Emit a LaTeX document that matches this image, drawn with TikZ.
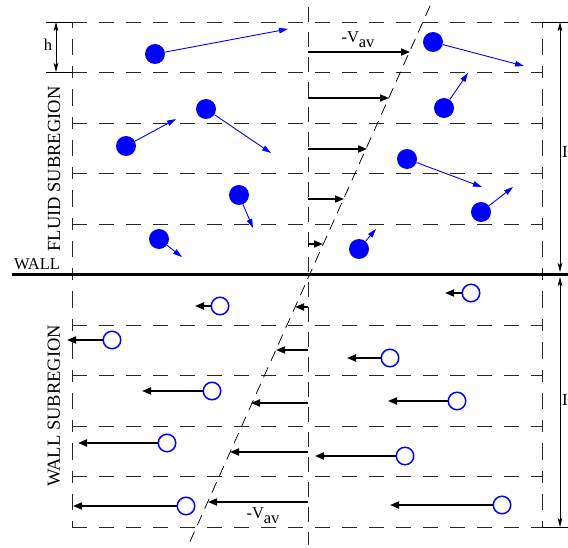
\documentclass[tikz,border=0pt]{standalone}
\usepackage{fontspec}
\setmainfont{Liberation Serif}
\usetikzlibrary{arrows.meta}
\definecolor{pblue}{RGB}{0,0,255}
\begin{document}
\begin{tikzpicture}[x=1pt,y=-1pt,
  hgrid/.style={line width=0.9pt, black!85, dash pattern=on 15pt off 12pt},
  vgrid/.style={line width=0.9pt, black!85, dash pattern=on 6pt off 11pt on 16.5pt off 11pt on 6pt off 300pt},
  cgrid/.style={line width=0.9pt, black!85, dash pattern=on 15pt off 10pt},
  slant/.style={line width=0.75pt, black, dash pattern=on 11pt off 7pt},
  fp/.style={circle, fill=pblue, minimum size=20pt, inner sep=0pt},
  wp/.style={circle, draw=pblue, line width=1.5pt, minimum size=17.5pt, inner sep=0pt},
  barrow/.style={pblue, line width=0.9pt, -{Triangle[length=9pt,width=5.5pt]}},
  karrow/.style={black, line width=1.8pt, -{Triangle[length=9pt,width=7pt]}},
  dimarrow/.style={black, line width=0.7pt, {Stealth[length=9pt,width=4.5pt,inset=2pt]}-{Stealth[length=9pt,width=4.5pt,inset=2pt]}},
  tick/.style={black, line width=0.7pt},
  lbl/.style={inner sep=0pt, font=\fontsize{16.5}{18}\selectfont},
  sublbl/.style={inner sep=0pt, rotate=90, font=\fontsize{18.5}{20}\selectfont},
  vlbl/.style={inner sep=0pt, font=\fontsize{16.5}{18}\selectfont}
]
\useasboundingbox (0,0) rectangle (568,548);

% horizontal dashed lines
\foreach \k in {0,1,2,3,4,6,7,8,9,10}{
  \draw[hgrid] (72,{22+50.5*\k}) -- (542,{22+50.5*\k});
}
% left and right vertical dashed lines, row by row
\foreach \k in {0,...,9}{
  \draw[vgrid] (72,{22+50.5*\k}) -- (72,{22+50.5*(\k+1)});
  \draw[vgrid] (542,{22+50.5*\k}) -- (542,{22+50.5*(\k+1)});
}
% centre dashed line
\coordinate (ctop) at (308,7);
\coordinate (cbot) at (308,545);
\draw[cgrid] (ctop) -- (cbot);
% slanted dashed line
\coordinate (stop) at (430,6);
\coordinate (sbot) at (188,546);
\draw[slant] (stop) -- (sbot);

% wall
\coordinate (wl) at (12,274.5);
\coordinate (wr) at (568,274.5);
\draw[line width=2.6pt] (wl) -- (wr);
\node[lbl] (wall) at (37,264) {WALL};

% region labels
\node[sublbl] (fluidlbl) at (54,169) {FLUID SUBREGION};
\node[sublbl] (walllbl) at (54,406) {WALL SUBREGION};

% h marker
\coordinate (ht1) at (46,22);  \coordinate (ht1e) at (72,22);
\coordinate (ht2) at (46,72);  \coordinate (ht2e) at (72,72);
\draw[tick] (ht1) -- (ht1e);
\draw[tick] (ht2) -- (ht2e);
\coordinate (ha) at (56,22); \coordinate (hb) at (56,72);
\draw[dimarrow] (ha) -- (hb);
\node[inner sep=0pt, font=\fontsize{16.5}{18}\selectfont] (hl) at (48,44.5) {h};

% I markers
\coordinate (it1) at (542,22);  \coordinate (it1e) at (568,22);
\coordinate (it2) at (542,527); \coordinate (it2e) at (568,527);
\draw[tick] (it1) -- (it1e);
\draw[tick] (it2) -- (it2e);
\coordinate (ia) at (560,22);  \coordinate (ib) at (560,272);
\coordinate (ic) at (560,277); \coordinate (id) at (560,527);
\draw[dimarrow] (ia) -- (ib);
\draw[dimarrow] (ic) -- (id);
\node[inner sep=0pt, anchor=west, font=\fontsize{17}{18}\selectfont] (il1) at (562,152) {I};
\node[inner sep=0pt, anchor=west, font=\fontsize{17}{18}\selectfont] (il2) at (562,400) {I};

% average velocity arrows (fluid)
\foreach \n/\y/\t in {1/52/410, 2/98/389, 3/149/367, 4/199/344, 5/244/323}{
  \coordinate (fs\n) at (308,\y);
  \coordinate (ft\n) at (\t,\y);
  \draw[karrow] (fs\n) -- (ft\n);
}
% average velocity arrows (wall)
\foreach \n/\y/\t in {1/307/295, 2/350/276, 3/403/251, 4/452/230, 5/502/208}{
  \coordinate (ws\n) at (308,\y);
  \coordinate (wt\n) at (\t,\y);
  \draw[karrow] (ws\n) -- (wt\n);
}
\node[vlbl] (vtop) at (358,40) {-V\raisebox{-5pt}{av}};
\node[vlbl] (vbot) at (263,516) {-V\raisebox{-5pt}{av}};

% fluid particles
\foreach \n/\x/\y/\ex/\ey in {
  1/155/54/288/29, 2/433/42/524/66, 3/206/109/271/153, 4/126/146/176/119,
  5/444/108/468/73, 6/407/159/482/187, 7/239/195/253/228, 8/481/212/513/187,
  9/159/239/182/257, 10/359/249/376/229}{
  \node[fp] (f\n) at (\x,\y) {};
  \coordinate (fe\n) at (\ex,\ey);
  \draw[barrow] (f\n) -- (fe\n);
}

% wall particles
\foreach \n/\x/\y/\ex in {
  1/220/306/195, 2/471/293/445, 3/112/340/67, 4/390/358/347, 5/212/391/142,
  6/457/401/388, 7/167/443/78, 8/405/456/315, 9/186/506/73, 10/502/505/390}{
  \node[wp] (w\n) at (\x,\y) {};
  \coordinate (we\n) at (\ex,\y);
  \draw[karrow] (w\n) -- (we\n);
}
\end{tikzpicture}
\end{document}
